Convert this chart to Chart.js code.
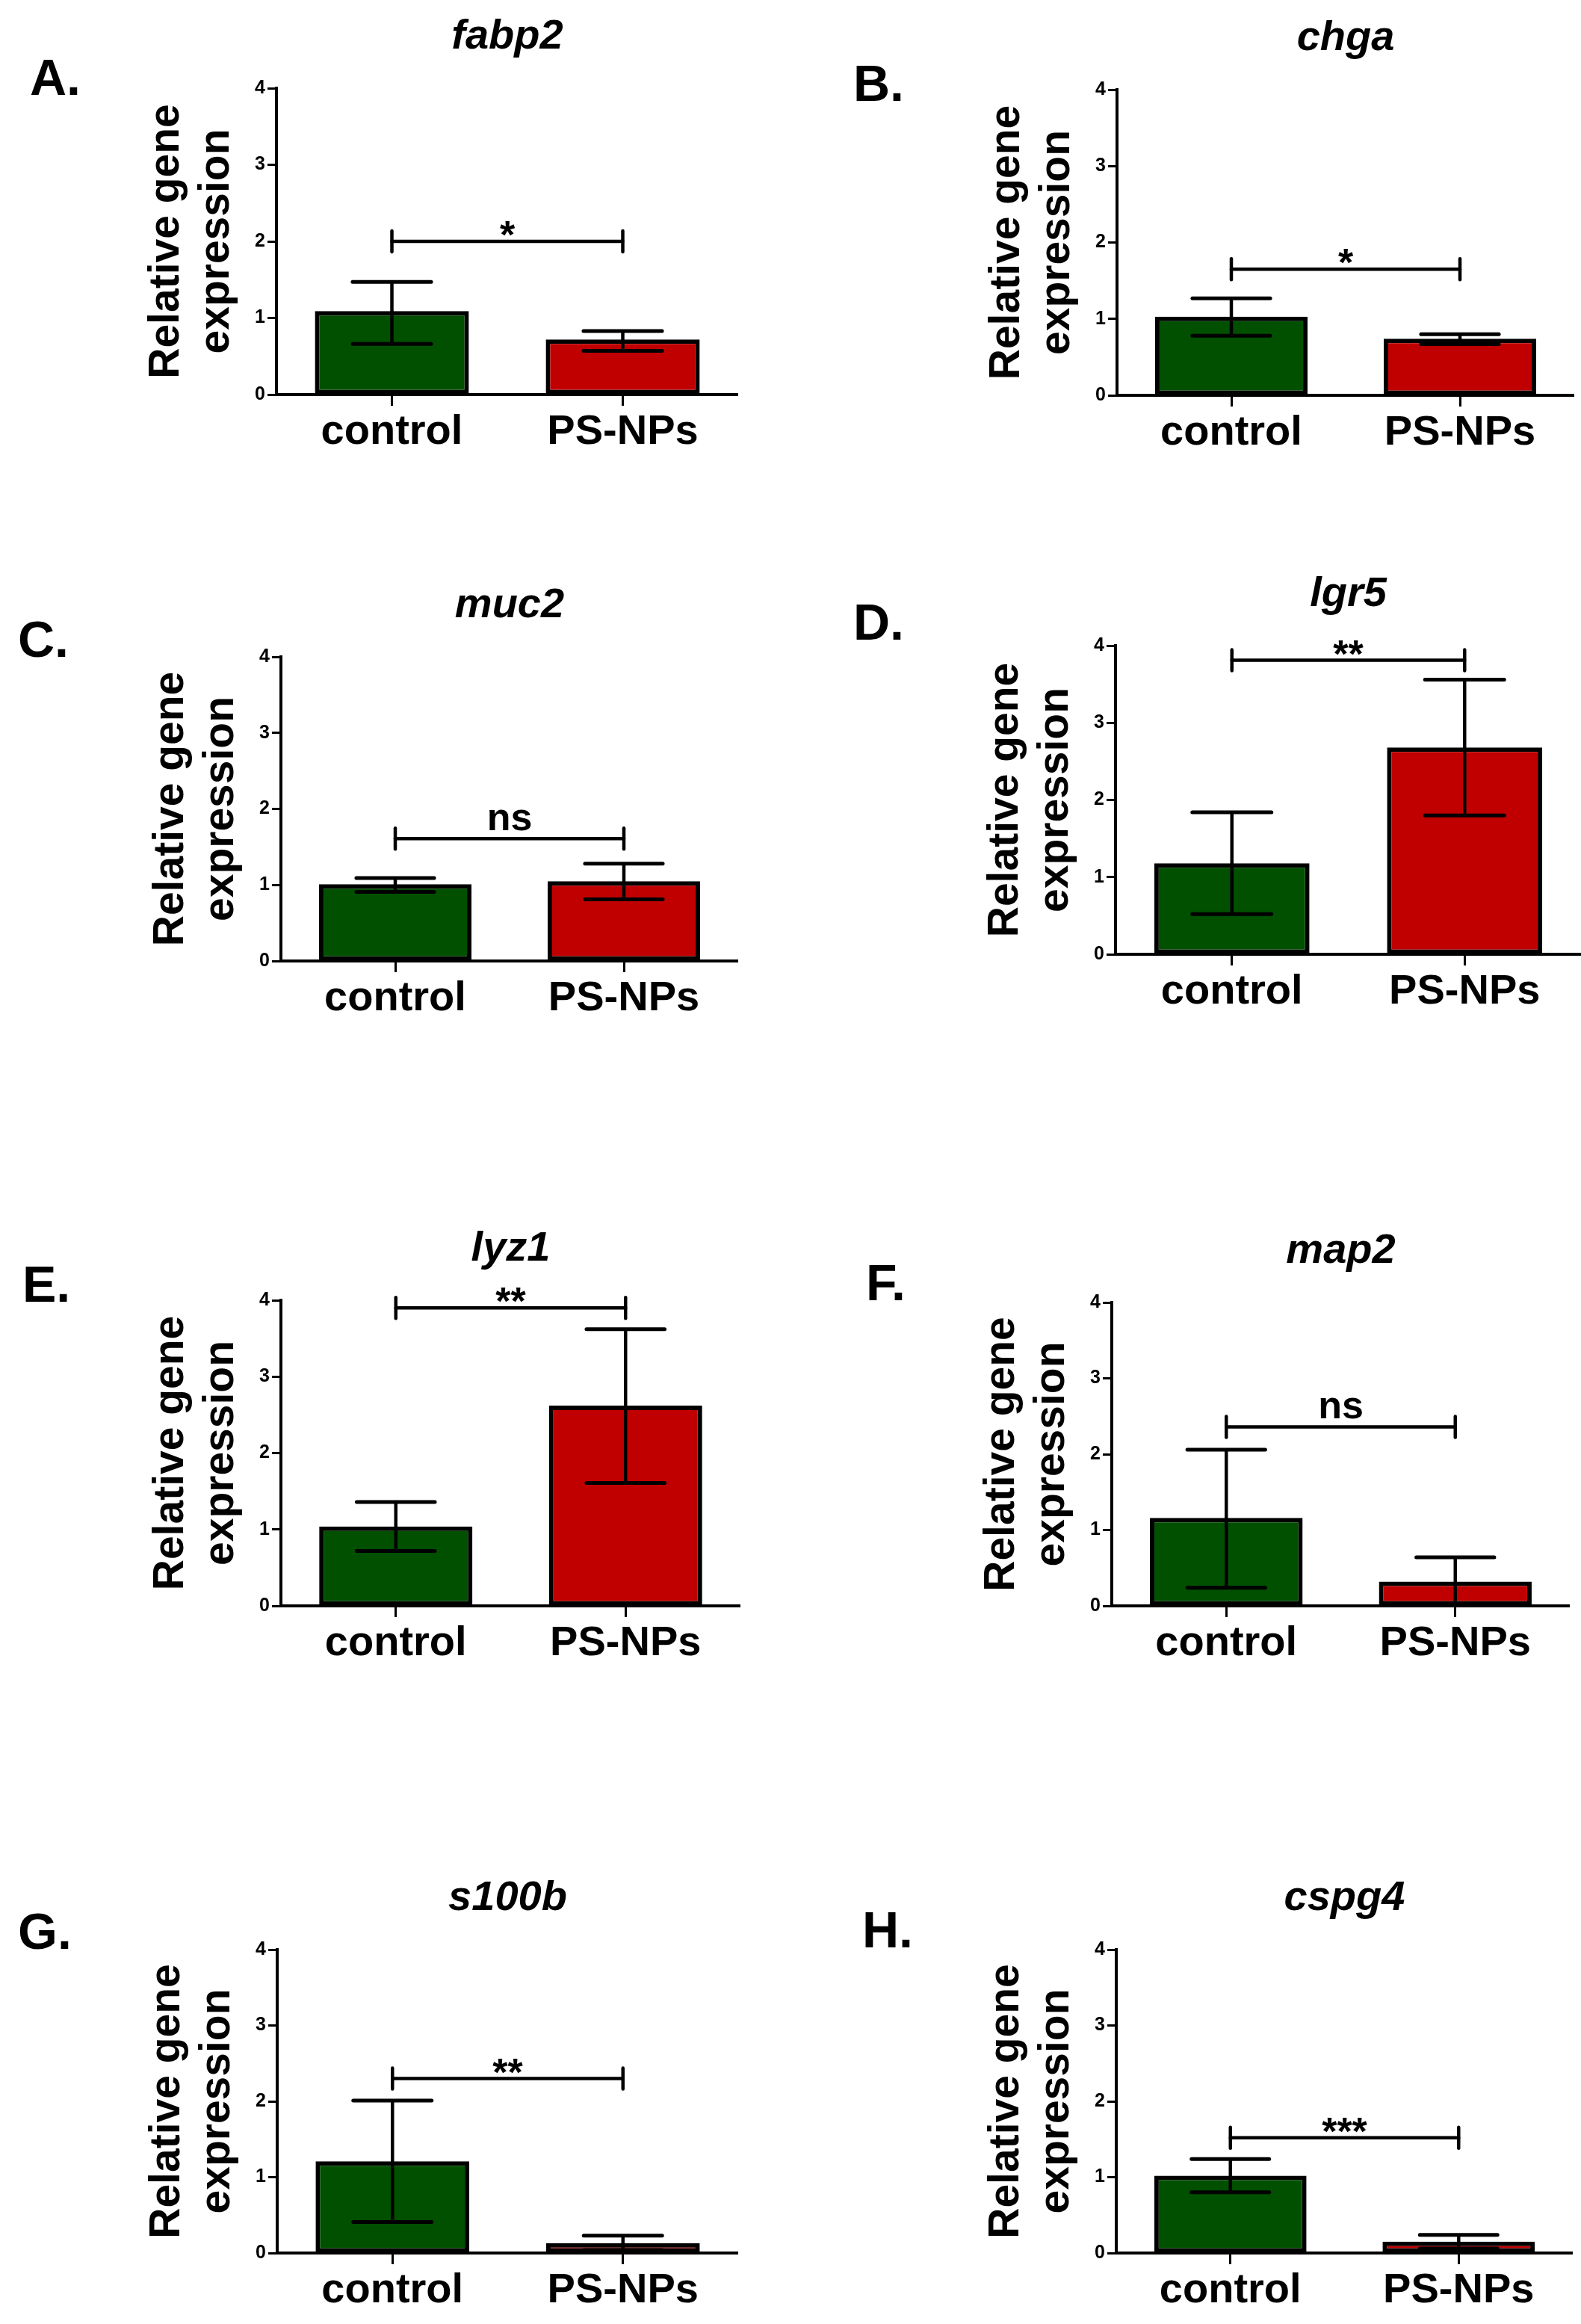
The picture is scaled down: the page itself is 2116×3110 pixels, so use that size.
<!DOCTYPE html>
<html>
<head>
<meta charset="utf-8">
<script src="https://cdn.jsdelivr.net/npm/chart.js@4.4.1/dist/chart.umd.min.js"></script>
<style>
  html, body { margin: 0; padding: 0; background: #fff; }
  #page { position: relative; width: 2116px; height: 3110px; background: #fff; overflow: hidden; }
  #page canvas { position: absolute; }
</style>
</head>
<body>
<div id="page"></div>
<script>
// values
const categories = ['control', 'PS-NPs'];
const genes = ['fabp2', 'chga', 'muc2', 'lgr5', 'lyz1', 'map2', 's100b', 'cspg4'];
const panelLetters = ['A.', 'B.', 'C.', 'D.', 'E.', 'F.', 'G.', 'H.'];
const controlMean = [1.09, 1.03, 1.01, 1.18, 1.04, 1.16, 1.21, 1.02];
const controlLow  = [0.66, 0.78, 0.91, 0.52, 0.72, 0.24, 0.41, 0.80];
const controlHigh = [1.47, 1.27, 1.09, 1.84, 1.36, 2.06, 2.01, 1.24];
const npsMean = [0.72, 0.74, 1.05, 2.68, 2.62, 0.32, 0.13, 0.15];
const npsLow  = [0.57, 0.67, 0.81, 1.80, 1.61, 0.02, 0.04, 0.06];
const npsHigh = [0.83, 0.80, 1.28, 3.56, 3.62, 0.64, 0.23, 0.24];
const bracketLevel = [2.0, 1.65, 1.61, 3.81, 3.90, 2.36, 2.30, 1.52];
const sigLabels = ['*', '*', 'ns', '**', '**', 'ns', '**', '***'];
const yMin = 0, yMax = 4, yStep = 1;

// panel placement on the page: y-axis x, plot top, zero line, plot right
const panelBoxes = [
  [370, 118, 528, 988], [1495, 120, 529, 2107],
  [376, 879, 1286, 988], [1493, 864, 1277, 2116],
  [376, 1740, 2149, 991], [1488, 1743, 2149, 2101],
  [371, 2609, 3015, 988], [1494, 2609, 3015, 2105]
];
// panel letter: left x, baseline
const letterPos = [
  [40, 127], [1142, 135], [24, 879], [1142, 856],
  [30, 1742], [1159, 1740], [24, 2608], [1154, 2606]
];

const FONT = "'Liberation Sans', Arial, Helvetica, sans-serif";
const barColors = ['#005000', '#c00000'];
const LEFT = 360, TOP = 110, BOTTOM = 110;

const decor = {
  id: 'decor',
  afterDatasetsDraw(chart, args, o) {
    const ctx = chart.ctx;
    const y = chart.scales.y;
    const bars = chart.getDatasetMeta(0).data;
    ctx.save();
    ctx.strokeStyle = '#000';
    bars.forEach((b, i) => {
      const half = b.width * 0.255;
      const yl = y.getPixelForValue(o.lows[i]);
      const yh = y.getPixelForValue(o.highs[i]);
      ctx.lineWidth = 4.5;
      ctx.lineCap = 'butt';
      ctx.beginPath(); ctx.moveTo(b.x, yl); ctx.lineTo(b.x, yh); ctx.stroke();
      ctx.lineWidth = 5;
      ctx.lineCap = 'round';
      [yl, yh].forEach(v => {
        ctx.beginPath(); ctx.moveTo(b.x - half, v); ctx.lineTo(b.x + half, v); ctx.stroke();
      });
    });

    // significance bracket
    const by = y.getPixelForValue(o.bracket);
    const x0 = bars[0].x, x1 = bars[1].x;
    ctx.lineWidth = 4.5;
    ctx.lineCap = 'round';
    ctx.beginPath(); ctx.moveTo(x0, by); ctx.lineTo(x1, by); ctx.stroke();
    ctx.beginPath(); ctx.moveTo(x0, by - 14); ctx.lineTo(x0, by + 14); ctx.stroke();
    ctx.beginPath(); ctx.moveTo(x1, by - 14); ctx.lineTo(x1, by + 14); ctx.stroke();
    ctx.fillStyle = '#000';
    ctx.font = 'bold 52px ' + FONT;
    ctx.textAlign = 'center';
    ctx.textBaseline = 'alphabetic';
    ctx.fillText(o.sig, (x0 + x1) / 2, o.sig === 'ns' ? by - 11 : by + 9);
    ctx.restore();
  },
  afterDraw(chart, args, o) {
    const ctx = chart.ctx;
    const area = chart.chartArea;
    ctx.save();
    ctx.fillStyle = '#000';
    ctx.textAlign = 'center';
    ctx.textBaseline = 'middle';
    ctx.font = 'italic bold 56px ' + FONT;
    ctx.fillText(o.gene, (area.left + area.right) / 2, area.top - 68);
    ctx.textAlign = 'left';
    ctx.textBaseline = 'alphabetic';
    ctx.font = 'bold 68px ' + FONT;
    ctx.fillText(o.letter, o.letterX, o.letterY);
    ctx.restore();
  }
};

const page = document.getElementById('page');

genes.forEach((gene, i) => {
  const [ax, top, zero, right] = panelBoxes[i];
  const left = ax - LEFT;
  const cTop = top - TOP;
  const canvas = document.createElement('canvas');
  canvas.width = right - left;
  canvas.height = zero + BOTTOM - cTop;
  canvas.style.left = left + 'px';
  canvas.style.top = cTop + 'px';
  canvas.style.width = canvas.width + 'px';
  canvas.style.height = canvas.height + 'px';
  page.appendChild(canvas);

  new Chart(canvas, {
    type: 'bar',
    data: {
      labels: categories,
      datasets: [{
        data: [controlMean[i], npsMean[i]],
        backgroundColor: barColors,
        borderColor: '#000',
        borderWidth: 6,
        borderSkipped: false,
        barPercentage: 0.667,
        categoryPercentage: 1
      }]
    },
    options: {
      responsive: false,
      animation: false,
      devicePixelRatio: 1,
      layout: { padding: { top: TOP, right: 0, bottom: 0, left: 0 } },
      plugins: {
        legend: { display: false },
        tooltip: { enabled: false },
        decor: {
          gene: gene,
          letter: panelLetters[i],
          letterX: letterPos[i][0] - left,
          letterY: letterPos[i][1] - cTop,
          lows: [controlLow[i], npsLow[i]],
          highs: [controlHigh[i], npsHigh[i]],
          bracket: bracketLevel[i],
          sig: sigLabels[i]
        }
      },
      scales: {
        x: {
          offset: true,
          afterFit: s => { s.height = BOTTOM; },
          border: { display: true, color: '#000', width: 4 },
          grid: { display: true, offset: false, drawOnChartArea: false, drawTicks: true, tickLength: 15, tickWidth: 3, tickColor: '#000' },
          ticks: { color: '#000', padding: 8, maxRotation: 0, autoSkip: false, font: { family: FONT, size: 56, weight: 'bold', lineHeight: 1 } }
        },
        y: {
          min: yMin,
          max: yMax,
          afterFit: s => { s.width = LEFT; },
          border: { display: true, color: '#000', width: 4 },
          grid: { display: true, drawOnChartArea: false, drawTicks: true, tickLength: 12, tickWidth: 3, tickColor: '#000' },
          ticks: { stepSize: yStep, color: '#000', padding: 3, font: { family: FONT, size: 25, weight: 'bold' } },
          title: {
            display: true,
            text: ['Relative gene', 'expression'],
            color: '#000',
            padding: { top: 180, bottom: 0 },
            font: { family: FONT, size: 57, weight: 'bold', lineHeight: 1.175 }
          }
        }
      }
    },
    plugins: [decor]
  });
});
</script>
</body>
</html>
